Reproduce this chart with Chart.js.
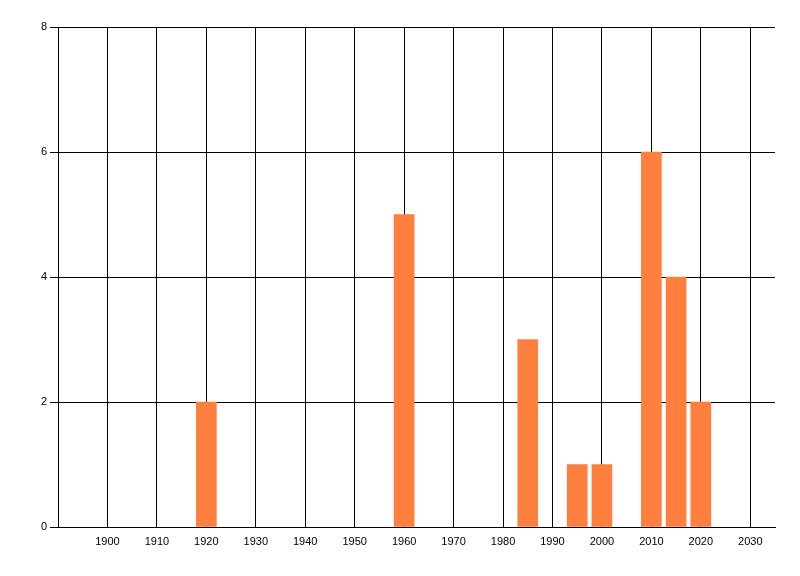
<!DOCTYPE html>
<html>
<head>
<meta charset="utf-8">
<script src="https://cdn.jsdelivr.net/npm/chart.js@4"></script>
<style>
  html, body { margin: 0; padding: 0; background: #fff; }
  #wrap { width: 800px; height: 576px; }
</style>
</head>
<body>
<div id="wrap"><canvas id="chart" width="800" height="576"></canvas></div>
<script>
// Data
const years = [1920, 1960, 1985, 1995, 2000, 2010, 2015, 2020];
const counts = [2, 5, 3, 1, 1, 6, 4, 2];
const xTicks = [1900, 1910, 1920, 1930, 1940, 1950, 1960, 1970, 1980, 1990, 2000, 2010, 2020, 2030];
const yTicks = [0, 2, 4, 6, 8];

const ctx = document.getElementById('chart').getContext('2d');

new Chart(ctx, {
  type: 'bar',
  data: {
    datasets: [{
      data: years.map((y, i) => ({ x: y, y: counts[i] })),
      backgroundColor: '#ff7f3f',
      borderWidth: 0,
      barThickness: 20
    }]
  },
  options: {
    responsive: false,
    animation: false,
    layout: { padding: { top: 27, right: 25, left: 0, bottom: 0 } },
    plugins: { legend: { display: false }, tooltip: { enabled: false } },
    scales: {
      x: {
        type: 'linear',
        min: 1890,
        max: 2035,
        offset: false,
        afterBuildTicks: (axis) => { axis.ticks = xTicks.map(v => ({ value: v })); },
        afterFit: (axis) => { axis.height = 49; },
        grid: { color: '#000', lineWidth: 1, drawTicks: false, offset: false },
        border: { color: '#000', width: 1 },
        ticks: {
          color: '#000',
          font: { family: 'Liberation Sans', size: 11 },
          padding: 8,
          maxRotation: 0,
          autoSkip: false,
          callback: (v) => String(v)
        }
      },
      y: {
        min: 0,
        max: 8,
        afterBuildTicks: (axis) => { axis.ticks = yTicks.map(v => ({ value: v })); },
        afterFit: (axis) => { axis.width = 58; },
        grid: { color: '#000', lineWidth: 1, drawTicks: true, tickLength: 8 },
        border: { color: '#000', width: 1 },
        ticks: {
          color: '#000',
          font: { family: 'Liberation Sans', size: 11 },
          padding: 3
        }
      }
    }
  }
});
</script>
</body>
</html>
